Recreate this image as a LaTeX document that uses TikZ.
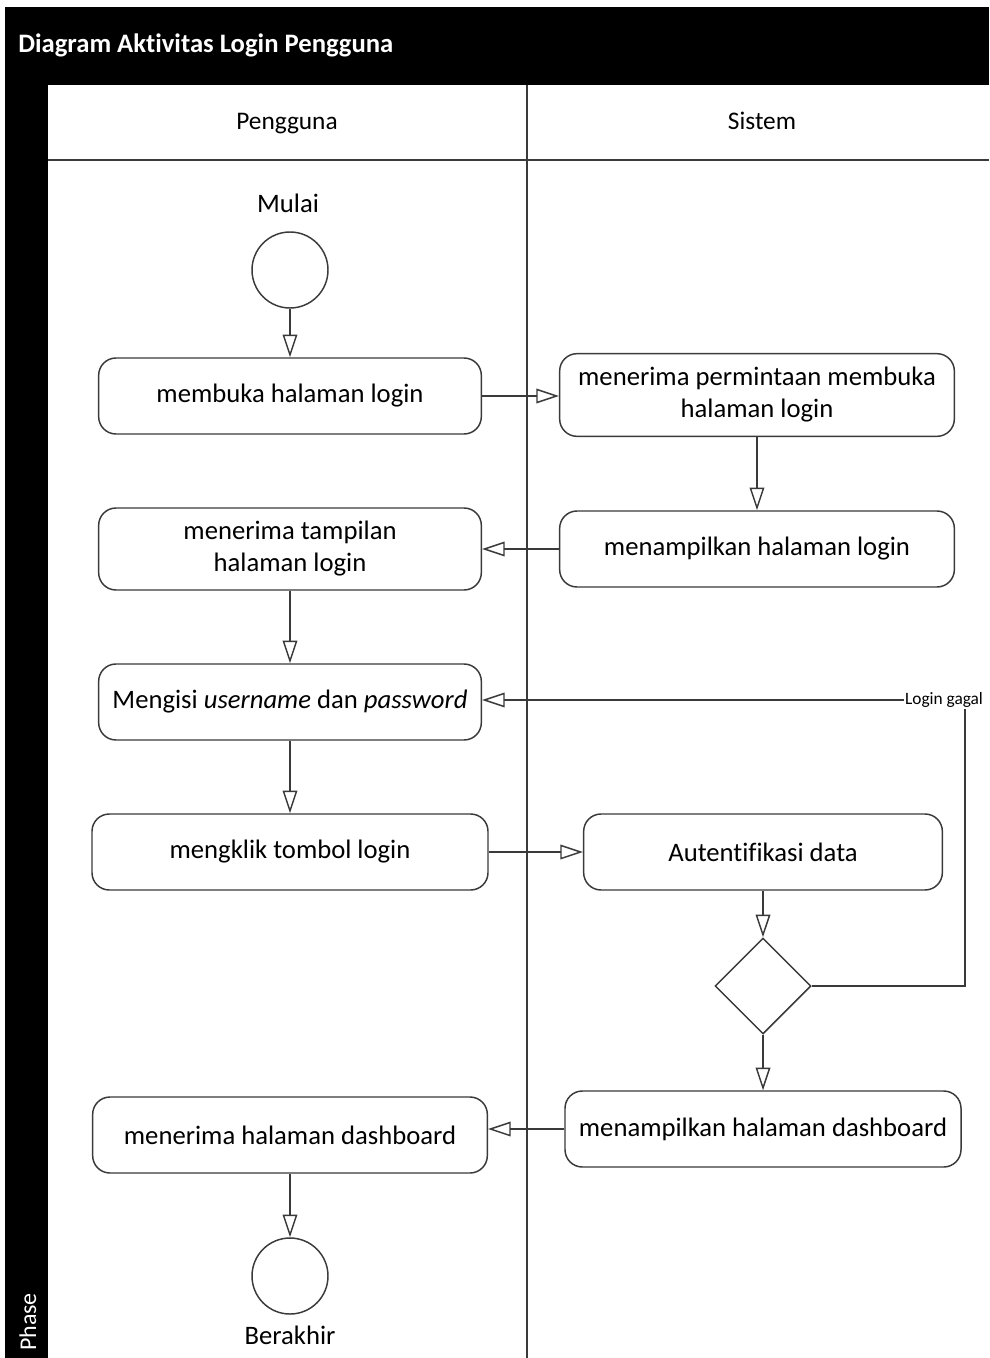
\documentclass[tikz,border=0pt]{standalone}
\usepackage{fontspec}
\setmainfont[Ligatures={NoCommon}]{Carlito}
\usetikzlibrary{arrows.meta,shapes.geometric}
\definecolor{linec}{HTML}{3A3A3A}
\begin{document}
\begin{tikzpicture}[x=0.75pt,y=-0.75pt,
  act/.style={draw=linec, line width=1.1pt, rounded corners=13pt, align=center,
    font=\fontsize{20}{24}\selectfont, inner sep=0pt, fill=white},
  term/.style={circle, draw=linec, line width=1.1pt, minimum size=57pt, inner sep=0pt},
  decide/.style={diamond, draw=linec, line width=1.1pt, minimum width=72pt, minimum height=72pt, inner sep=0pt},
  flow/.style={draw=linec, line width=1.1pt, -{Triangle[open, length=17pt, width=11pt]}},
  lbl/.style={font=\fontsize{20}{24}\selectfont, inner sep=0pt, anchor=base},
  lane/.style={draw=linec, line width=1.1pt}
]
% page and pool frame
\fill[white] (0,0) rectangle (989,1358);
\useasboundingbox (0,0) rectangle (989,1358);
\fill[black] (5,7) rectangle (989,85);
\fill[black] (5,85) rectangle (48,1358);
\node[anchor=base west, text=white, font=\bfseries\fontsize{20}{24}\selectfont, inner sep=0pt] (title) at (18,53) {Diagram Aktivitas Login Pengguna};
\node[rotate=90, text=white, font=\fontsize{18}{20}\selectfont, inner sep=0pt] (phase) at (28,1322) {Phase};

% swimlanes
\draw[lane] (48,160) -- (989,160);
\draw[lane] (527,85) -- (527,1358);
\node[lbl, font=\fontsize{19}{22}\selectfont] (h1) at (287,130) {Pengguna};
\node[lbl, font=\fontsize{19}{22}\selectfont] (h2) at (762,130) {Sistem};

% user lane
\node[lbl] (mulai) at (288,213) {Mulai};
\node[term] (start) at (290,270) {};
\node[act, minimum width=287pt, minimum height=57pt] (a1) at (290,396) {membuka halaman login};
\node[act, minimum width=287pt, minimum height=61.5pt] (a2) at (290,549) {menerima tampilan\\halaman login};
\node[act, minimum width=287pt, minimum height=57pt] (a3) at (290,702) {Mengisi \textit{username} dan \textit{password}};
\node[act, minimum width=297pt, minimum height=57pt] (a4) at (290,852) {mengklik tombol login};
\node[act, minimum width=296pt, minimum height=57pt] (a5) at (290,1135) {menerima halaman dashboard};
\node[term] (end) at (290,1276) {};
\node[lbl] (berakhir) at (290,1344) {Berakhir};

% system lane
\node[act, minimum width=296pt, minimum height=62pt] (s1) at (757,395) {menerima permintaan membuka\\halaman login};
\node[act, minimum width=296pt, minimum height=57pt] (s2) at (757,549) {menampilkan halaman login};
\node[act, minimum width=269pt, minimum height=57pt] (s3) at (763,852) {Autentifikasi data};
\node[decide] (d) at (763,986) {};
\node[act, minimum width=297pt, minimum height=57pt] (s4) at (763,1129) {menampilkan halaman dashboard};

% control flow
\draw[flow] (start) -- (a1);
\draw[flow] (a1) -- (s1.west |- a1);
\draw[flow] (s1) -- (s2);
\draw[flow] (s2) -- (a2);
\draw[flow] (a2) -- (a3);
\draw[flow] (a3) -- (a4);
\draw[flow] (a4) -- (s3);
\draw[flow] (s3) -- (d);
\draw[flow] (d) -- (s4);
\draw[flow] (s4.west) -- (s4.west -| a5.east);
\draw[flow] (a5) -- (end);
\coordinate (k) at (965,700);
\draw[flow] (d.east) -| (k) -- (k -| a3.east);
\node[fill=white, font=\fontsize{13}{15}\selectfont, inner sep=1pt] (gagal) at (944,700) {Login gagal};
\end{tikzpicture}
\end{document}
